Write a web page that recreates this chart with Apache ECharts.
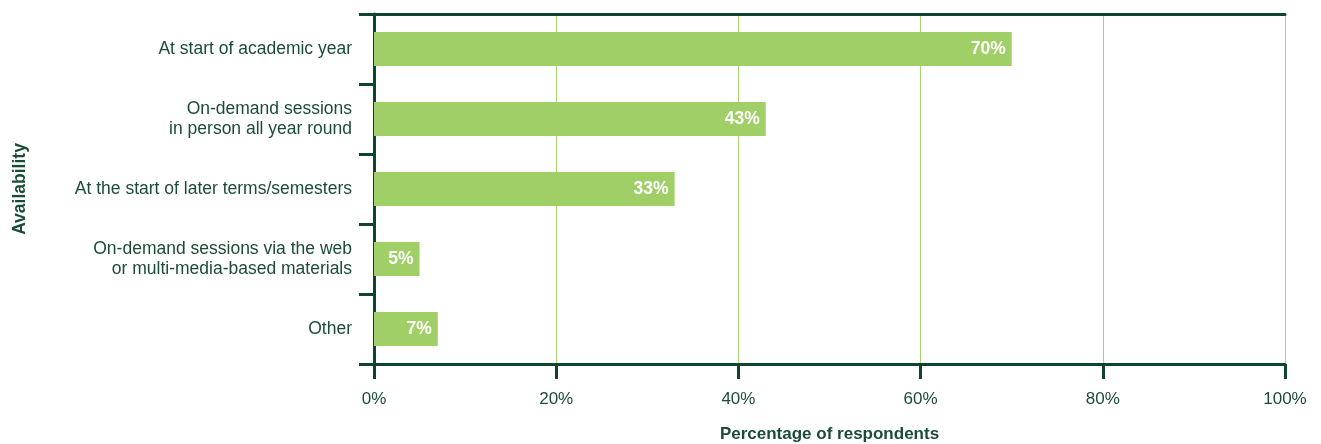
<!DOCTYPE html>
<html><head><meta charset="utf-8">
<script src="https://cdn.jsdelivr.net/npm/echarts@6/dist/echarts.min.js"></script>
<style>html,body{margin:0;padding:0;background:#fff}#c{width:1321px;height:444px}</style>
</head><body><div id="c"></div>
<script>
const categories = [
  "At start of academic year",
  "On-demand sessions\nin person all year round",
  "At the start of later terms/semesters",
  "On-demand sessions via the web\nor multi-media-based materials",
  "Other"
];
const values = [70, 43, 33, 5, 7];
const xTicks = [0, 20, 40, 60, 80, 100];

const dark = '#0f4430';
const text = '#1b4c37';
const green = '#a0cf67';
const font = 'Liberation Sans';

const chart = echarts.init(document.getElementById('c'), null, {renderer: 'canvas'});
chart.setOption({
  animation: false,
  grid: {left: 374, right: 36, top: 14, bottom: 80, containLabel: false, outerBoundsMode: 'none'},
  xAxis: [{
    type: 'value', min: xTicks[0], max: xTicks[xTicks.length - 1], interval: 20,
    position: 'bottom',
    name: 'Percentage of respondents', nameLocation: 'middle', nameGap: 62,
    nameTextStyle: {color: text, fontFamily: font, fontSize: 17, fontWeight: 'bold'},
    axisLine: {show: true, lineStyle: {color: dark, width: 3}},
    axisTick: {show: true, length: 15, lineStyle: {color: dark, width: 3}},
    axisLabel: {color: text, fontFamily: font, fontSize: 17, margin: 27, formatter: '{value}%'},
    splitLine: {show: true, lineStyle: {color: '#a5d66e', width: 1}}
  }, {
    type: 'value', min: 0, max: 100, position: 'top',
    axisLine: {show: true, lineStyle: {color: dark, width: 3}},
    axisTick: {show: false}, axisLabel: {show: false}, splitLine: {show: false}
  }],
  yAxis: {
    type: 'category', data: categories, inverse: true,
    name: 'Availability', nameLocation: 'middle', nameGap: 345, nameRotate: 90,
    nameTextStyle: {color: text, fontFamily: font, fontSize: 17.5, fontWeight: 'bold'},
    axisLine: {show: true, lineStyle: {color: dark, width: 3}},
    axisTick: {show: true, length: 15, lineStyle: {color: dark, width: 3}},
    axisLabel: {color: text, fontFamily: font, fontSize: 17.5, margin: 22, lineHeight: 20, align: 'right'},
    splitLine: {show: false}
  },
  series: [{
    type: 'bar', data: values, barWidth: 34,
    itemStyle: {color: green},
    label: {show: true, position: 'insideRight', distance: 6, color: '#fff',
      fontFamily: font, fontSize: 17.5, fontWeight: 'bold', formatter: '{c}%'}
  }]
});
</script></body></html>
